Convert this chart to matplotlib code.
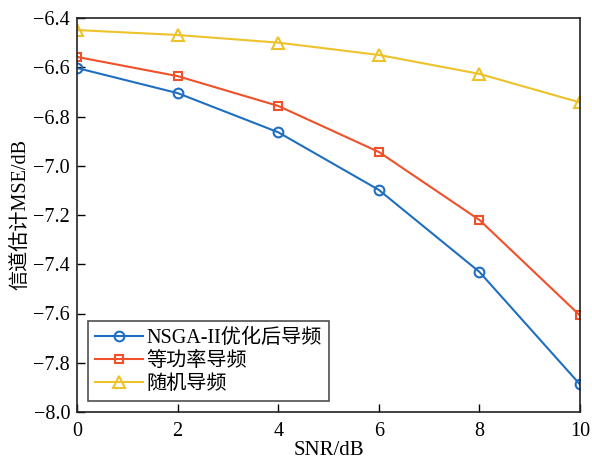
import matplotlib
matplotlib.use('Agg')
import matplotlib.pyplot as plt

snr = [0, 2, 4, 6, 8, 10]
mse_nsga = [-6.603, -6.705, -6.864, -7.098, -7.431, -7.888]
mse_equal = [-6.558, -6.636, -6.757, -6.944, -7.220, -7.608]
mse_random = [-6.449, -6.469, -6.500, -6.550, -6.627, -6.743]
labels = ['NSGA-II优化后导频', '等功率导频', '随机导频']
yticks = [-8.0, -7.8, -7.6, -7.4, -7.2, -7.0, -6.8, -6.6, -6.4]

plt.rcParams['font.family'] = ['Liberation Serif', 'Noto Sans CJK SC']
plt.rcParams['axes.unicode_minus'] = True

fig = plt.figure(figsize=(5.92, 4.63), dpi=100)
ax = fig.add_axes([77 / 592, 1 - 412 / 463, (580 - 77) / 592, (412 - 18) / 463])

ax.plot(snr, mse_nsga, color='#1F6FC0', marker='o', markersize=7, markerfacecolor='none',
        markeredgewidth=1.5, linewidth=1.5, label=labels[0])
ax.plot(snr, mse_equal, color='#F0502A', marker='s', markersize=6, markerfacecolor='none',
        markeredgewidth=1.5, linewidth=1.5, label=labels[1])
ax.plot(snr, mse_random, color='#EDC22A', marker='^', markersize=8, markerfacecolor='none',
        markeredgewidth=1.5, linewidth=1.5, label=labels[2])

ax.set_xlim(0, 10)
ax.set_ylim(-8.0, -6.4)
ax.set_yticks(yticks)
ax.set_yticklabels([f'{v:.1f}'.replace('-', '\u2212') for v in yticks])
ax.set_xticks(snr)
ax.tick_params(direction='in', labelsize=14.5, length=6, width=1, top=False, right=False)
ax.tick_params(axis='x', pad=7)
ax.tick_params(axis='y', pad=5)
for s in ax.spines.values():
    s.set_linewidth(1.2)
    s.set_color('#222222')

ax.set_xlabel('SNR/dB', fontsize=15, labelpad=0)
ax.set_ylabel('信道估计MSE/dB', fontsize=14.5, labelpad=2)

leg = ax.legend(loc='lower left', fontsize=14.5, frameon=True, fancybox=False,
                edgecolor='#222222', handlelength=2.4, handletextpad=0.15,
                borderpad=0.35, labelspacing=0.2, borderaxespad=0.55)
leg.get_frame().set_linewidth(1.2)

fig.savefig('out.png', dpi=100)
